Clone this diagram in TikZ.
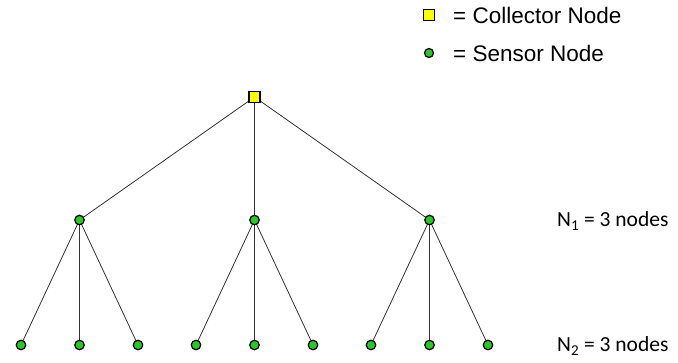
\documentclass[tikz,border=0pt]{standalone}
\usepackage{fontspec}
\setmainfont{Liberation Sans}
\newfontfamily\calib{Carlito}
\definecolor{sgreen}{RGB}{40,200,40}
\definecolor{cyellow}{RGB}{255,255,0}
\begin{document}
\begin{tikzpicture}[x=1pt,y=-1pt,
  sensor/.style={circle,draw=black,line width=1.2pt,fill=sgreen,minimum size=9.5pt,inner sep=0pt},
  collector/.style={rectangle,draw=black,line width=1.6pt,fill=cyellow,minimum size=10pt,inner sep=0pt},
  edge/.style={draw=black!80,line width=0.8pt},
  legtext/.style={anchor=west,font=\fontsize{22.5}{26}\selectfont,inner sep=0pt},
  lvltext/.style={anchor=west,font=\calib\fontsize{21.5}{25}\selectfont,inner sep=0pt}]
\useasboundingbox (0,0) rectangle (678,362);
% legend
\node[collector,minimum size=11pt] (lc) at (429,15) {};
\node[legtext] (lct) at (453,15) {= Collector Node};
\node[sensor,minimum size=9pt] (ls) at (429,53) {};
\node[legtext] (lst) at (453,53) {= Sensor Node};
% tree
\coordinate (rootc) at (254.5,97);
\foreach \i/\x in {1/79.5,2/254.5,3/429.5}{\coordinate (a\i) at (\x,220);}
\foreach \i/\x in {1/21,2/79.5,3/138,4/196,5/254.5,6/313,7/371,8/429.5,9/488}{\coordinate (b\i) at (\x,345);}
\foreach \i in {1,2,3}{\draw[edge] (rootc) -- (a\i);}
\draw[edge] (a1) -- (b1); \draw[edge] (a1) -- (b2); \draw[edge] (a1) -- (b3);
\draw[edge] (a2) -- (b4); \draw[edge] (a2) -- (b5); \draw[edge] (a2) -- (b6);
\draw[edge] (a3) -- (b7); \draw[edge] (a3) -- (b8); \draw[edge] (a3) -- (b9);
\node[collector,minimum size=11pt] (root) at (rootc) {};
\foreach \i in {1,2,3}{\node[sensor] (na\i) at (a\i) {};}
\foreach \i in {1,...,9}{\node[sensor] (nb\i) at (b\i) {};}
% labels
\node[lvltext] (n1) at (557,221) {N\textsubscript{1} = 3 nodes};
\node[lvltext] (n2) at (557,346) {N\textsubscript{2} = 3 nodes};
\end{tikzpicture}
\end{document}
